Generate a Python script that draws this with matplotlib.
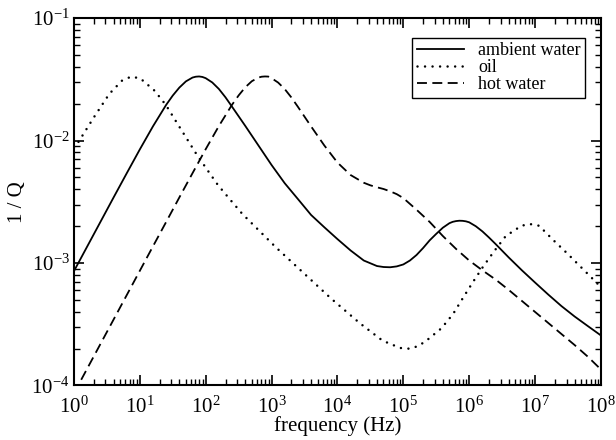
import numpy as np
import matplotlib
matplotlib.use('Agg')
import matplotlib.pyplot as plt
from matplotlib.ticker import LogLocator, NullFormatter

plt.rcParams['font.family'] = 'serif'
plt.rcParams['font.serif'] = ['Liberation Serif', 'DejaVu Serif']
plt.rcParams['mathtext.fontset'] = 'custom'
plt.rcParams['mathtext.rm'] = 'Liberation Serif'
plt.rcParams['mathtext.it'] = 'Liberation Serif:italic'

# values, as log10(frequency / Hz) and log10(1/Q)
water_logf = [0.0, 0.2, 0.4, 0.6, 0.8, 1.0, 1.2, 1.4, 1.5, 1.6, 1.7, 1.8, 1.85, 1.9,
              1.95, 2.0, 2.1, 2.2, 2.3, 2.4, 2.6, 2.8, 3.0, 3.2, 3.4, 3.6, 3.8, 4.0,
              4.2, 4.4, 4.6, 4.7, 4.8, 4.9, 5.0, 5.1, 5.2, 5.3, 5.4, 5.5, 5.6, 5.7,
              5.75, 5.8, 5.85, 5.9, 5.95, 6.0, 6.1, 6.2, 6.3, 6.4, 6.6, 6.8, 7.0,
              7.2, 7.4, 7.6, 7.8, 8.0]
water_logq = [-3.067, -2.867, -2.667, -2.467, -2.269, -2.073, -1.884, -1.709, -1.633,
              -1.568, -1.517, -1.486, -1.479, -1.477, -1.481, -1.491, -1.526, -1.579,
              -1.647, -1.724, -1.880, -2.040, -2.200, -2.349, -2.478, -2.608, -2.708,
              -2.805, -2.898, -2.980, -3.025, -3.033, -3.035, -3.028, -3.012, -2.980,
              -2.935, -2.878, -2.815, -2.762, -2.712, -2.675, -2.664, -2.658, -2.655,
              -2.656, -2.660, -2.668, -2.700, -2.742, -2.792, -2.845, -2.955, -3.060,
              -3.160, -3.258, -3.352, -3.437, -3.515, -3.592]

oil_logf = [0.0, 0.071, 0.299, 0.536, 0.728, 0.865, 1.006, 1.224, 1.396, 1.553, 1.704,
            1.856, 2.018, 2.185, 2.367, 2.554, 2.66, 3.065, 3.48, 3.905, 4.34, 4.684,
            4.952, 5.094, 5.23, 5.362, 5.579, 5.756, 5.908, 6.06, 6.211, 6.373, 6.555,
            6.793, 6.92, 7.061, 7.274, 7.486, 7.689, 7.881, 8.0]
oil_logq = [-2.06, -2.010, -1.814, -1.620, -1.512, -1.479, -1.492, -1.593, -1.710,
            -1.847, -1.977, -2.108, -2.235, -2.363, -2.480, -2.598, -2.655, -2.872,
            -3.079, -3.291, -3.492, -3.634, -3.694, -3.700, -3.678, -3.629, -3.533,
            -3.416, -3.283, -3.153, -3.030, -2.908, -2.780, -2.696, -2.682, -2.696,
            -2.812, -2.921, -3.030, -3.133, -3.197]

hot_logf = [0.0, 0.2, 0.4, 0.6, 0.8, 1.0, 1.2, 1.4, 1.6, 1.8, 2.0, 2.2, 2.4, 2.5,
            2.6, 2.7, 2.8, 2.85, 2.9, 2.95, 3.0, 3.1, 3.2, 3.3, 3.4, 3.6, 3.8, 4.0,
            4.2, 4.4, 4.5, 4.6, 4.7, 4.8, 4.9, 5.0, 5.2, 5.4, 5.6, 5.8, 6.0, 6.2,
            6.4, 6.6, 6.8, 7.0, 7.2, 7.4, 7.6, 7.8, 8.0]
hot_logq = [-4.064, -3.864, -3.664, -3.464, -3.264, -3.064, -2.864, -2.665, -2.465,
            -2.267, -2.071, -1.882, -1.708, -1.632, -1.566, -1.516, -1.486, -1.479,
            -1.477, -1.478, -1.491, -1.527, -1.580, -1.648, -1.725, -1.885, -2.040,
            -2.180, -2.282, -2.345, -2.366, -2.382, -2.396, -2.415, -2.438, -2.470,
            -2.565, -2.665, -2.780, -2.885, -2.980, -3.060, -3.135, -3.220, -3.310,
            -3.400, -3.490, -3.580, -3.670, -3.765, -3.870]

fig = plt.figure(figsize=(6.16, 4.4), dpi=100)
ax = fig.add_axes([0.120, 0.124, 0.8556, 0.835])

ax.plot(10 ** np.array(water_logf), 10 ** np.array(water_logq), color='black',
        lw=1.3, label='ambient water')
ax.plot(10 ** np.array(oil_logf), 10 ** np.array(oil_logq), color='black', lw=1.8,
        linestyle=(0, (0.01, 3.0)), dash_capstyle='round', label='oil')
ax.plot(10 ** np.array(hot_logf), 10 ** np.array(hot_logq), color='black', lw=1.3,
        linestyle=(0, (5.5, 3.0)), label='hot water')

ax.set_xscale('log')
ax.set_yscale('log')
ax.set_xlim(1, 1e8)
ax.set_ylim(1e-4, 1e-1)
ax.xaxis.set_major_locator(LogLocator(base=10, numticks=20))
ax.xaxis.set_minor_locator(LogLocator(base=10, subs=np.arange(2, 10), numticks=20))
ax.xaxis.set_minor_formatter(NullFormatter())
ax.yaxis.set_minor_formatter(NullFormatter())

ax.tick_params(which='both', direction='in', top=True, right=True, labelsize=15)
ax.tick_params(which='major', length=7, width=1.2)
ax.tick_params(which='minor', length=4, width=1)
ax.tick_params(axis='x', pad=8)
ax.tick_params(axis='y', pad=3)
for s in ax.spines.values():
    s.set_linewidth(1.5)

ax.set_xlabel('frequency (Hz)', fontsize=15, labelpad=-1)
ax.set_ylabel('1 / Q', fontsize=15, labelpad=3)

leg = ax.legend(loc='upper right', bbox_to_anchor=(0.970, 0.946), borderaxespad=0,
                fontsize=13, frameon=True, fancybox=False, edgecolor='black',
                framealpha=1, handlelength=2.6, labelspacing=0.0, borderpad=0.25,
                handletextpad=0.8)
leg.get_frame().set_linewidth(1.0)

fig.savefig('out.png', dpi=100)
